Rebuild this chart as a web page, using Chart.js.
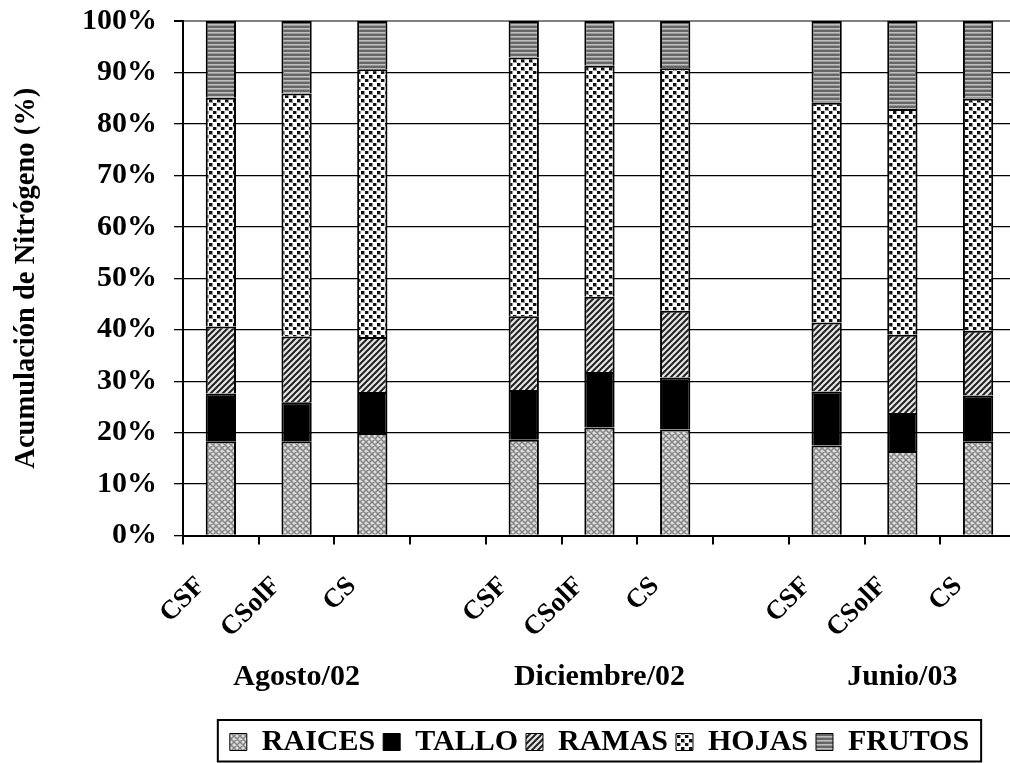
<!DOCTYPE html>
<html><head><meta charset="utf-8">
<script src="https://cdn.jsdelivr.net/npm/chart.js@4.4.1/dist/chart.umd.min.js"></script>
<style>
html,body{margin:0;padding:0;overflow:hidden;background:#fff;width:1010px;height:763px}
#wrap{position:relative;width:1010px;height:763px;overflow:hidden}
#c{position:absolute;left:0;top:-14px}
</style></head>
<body><div id="wrap"><canvas id="c" width="1027" height="781"></canvas></div>
<script>
const categories = ['CSF','CSolF','CS','', 'CSF','CSolF','CS','', 'CSF','CSolF','CS'];
const groupLabels = ['', 'Agosto/02', '', '', '', 'Diciembre/02', '', '', '', 'Junio/03', ''];
const seriesNames = ['RAICES','TALLO','RAMAS','HOJAS','FRUTOS'];
const raices = [18.3, 18.3, 19.9, null, 18.6, 21.0, 20.6, null, 17.5, 16.4, 18.3];
const tallo  = [9.3, 7.6, 8.0, null, 9.7, 10.8, 10.1, null, 10.5, 7.4, 8.9];
const ramas  = [13.0, 12.8, 10.7, null, 14.3, 14.6, 13.0, null, 13.4, 15.2, 12.6];
const hojas  = [44.5, 47.2, 52.0, null, 50.3, 44.9, 47.1, null, 42.7, 43.9, 45.1];
const frutos = [14.9, 14.1, 9.4, null, 7.1, 8.7, 9.2, null, 15.9, 17.1, 15.1];
const yTitle = 'Acumulación de Nitrógeno (%)';

const FONT = '"Liberation Serif", "Times New Roman", serif';

function makePattern(w, h, draw) {
  const c = document.createElement('canvas');
  c.width = w; c.height = h;
  const g = c.getContext('2d');
  draw(g, w, h);
  return g.createPattern(c, 'repeat');
}
const patRaices = makePattern(6, 6, (g) => {
  g.fillStyle = '#dedede'; g.fillRect(0, 0, 6, 6);
  g.strokeStyle = '#858585'; g.lineWidth = 1.5;
  g.beginPath();
  g.moveTo(0, 0); g.lineTo(6, 6);
  g.moveTo(6, 0); g.lineTo(0, 6);
  g.moveTo(-1, 5); g.lineTo(1, 7); g.moveTo(5, -1); g.lineTo(7, 1);
  g.moveTo(-1, 1); g.lineTo(1, -1); g.moveTo(5, 7); g.lineTo(7, 5);
  g.stroke();
});
const patRamas = makePattern(6, 6, (g) => {
  g.fillStyle = '#e6e6e6'; g.fillRect(0, 0, 6, 6);
  g.strokeStyle = '#222'; g.lineWidth = 2;
  g.beginPath();
  g.moveTo(0, 6); g.lineTo(6, 0);
  g.moveTo(-1, 1); g.lineTo(1, -1);
  g.moveTo(5, 7); g.lineTo(7, 5);
  g.stroke();
});
const patHojas = makePattern(8, 8, (g) => {
  g.fillStyle = '#ffffff'; g.fillRect(0, 0, 8, 8);
  g.fillStyle = '#9a9a9a';
  g.fillRect(1, 1, 4, 4);
  g.fillRect(5, 5, 3, 4); g.fillRect(0, 5, 1, 4);
  g.fillStyle = '#111111';
  g.fillRect(1, 1, 3, 3);
  g.fillRect(5, 5, 3, 3);
});
const patFrutos = makePattern(4, 4, (g) => {
  const rows = ['#666666', '#666666', '#c0c0c0', '#999999'];
  rows.forEach((col, i) => { g.fillStyle = col; g.fillRect(0, i, 4, 1); });
});
const fills = [patRaices, '#000000', patRamas, patHojas, patFrutos];
const values = [raices, tallo, ramas, hojas, frutos];

const datasets = seriesNames.map((name, i) => ({
  label: name,
  data: values[i],
  backgroundColor: fills[i],
  borderColor: '#000',
  borderWidth: 2,
  barPercentage: 0.4,
  categoryPercentage: 1.0,
  xAxisID: 'x',
  yAxisID: 'y'
}));

const legendBorder = {
  id: 'legendBorder',
  afterDraw(chart) {
    const lg = chart.legend;
    if (!lg || !lg.legendHitBoxes || !lg.legendHitBoxes.length) return;
    const hb = lg.legendHitBoxes;
    const first = hb[0], last = hb[hb.length - 1];
    const left = first.left - 12;
    const right = last.left + last.width + 12;
    const top = lg.top + 1;
    const bottom = chart.height - 5.5;
    const ctx = chart.ctx;
    ctx.save();
    ctx.strokeStyle = '#000';
    ctx.lineWidth = 2;
    ctx.strokeRect(left, top, right - left, bottom - top);
    ctx.restore();
  }
};

new Chart(document.getElementById('c'), {
  type: 'bar',
  data: { labels: categories, datasets },
  plugins: [legendBorder],
  options: {
    responsive: false,
    animation: false,
    devicePixelRatio: 1,
    layout: { padding: { top: 21, right: 0, bottom: 0, left: 0 } },
    plugins: {
      tooltip: { enabled: false },
      legend: {
        position: 'bottom',
        fullSize: false,
        labels: {
          color: '#000',
          font: { family: FONT, size: 30, weight: 'bold' },
          boxWidth: 17,
          boxHeight: 17,
          padding: 8,
          generateLabels(chart) {
            const items = Chart.defaults.plugins.legend.labels.generateLabels(chart);
            items.forEach(it => { it.lineWidth = 1; it.strokeStyle = '#000'; });
            return items;
          }
        }
      }
    },
    scales: {
      x: {
        type: 'category',
        position: 'bottom',
        stacked: true,
        offset: true,
        weight: 0,
        grid: { display: true, drawOnChartArea: false, drawTicks: true, tickLength: 9, offset: true, color: '#000', lineWidth: 2 },
        border: { display: true, color: '#000', width: 2 },
        ticks: {
          autoSkip: false, maxRotation: 45, minRotation: 45,
          color: '#000', padding: 26, labelOffset: -20,
          font: { family: FONT, size: 27, weight: 'bold' }
        },
        afterFit(s) { s.height = 120; }
      },
      x2: {
        type: 'category',
        position: 'bottom',
        labels: groupLabels,
        offset: true,
        weight: 1,
        grid: { display: false, drawTicks: false, drawOnChartArea: false },
        border: { display: false },
        ticks: {
          autoSkip: false, maxRotation: 0, minRotation: 0,
          color: '#000', padding: 4,
          font: { family: FONT, size: 30, weight: 'bold' }
        },
        afterFit(s) { s.height = 63.5; }
      },
      y: {
        stacked: true,
        min: 0, max: 100,
        ticks: {
          stepSize: 10,
          color: '#000',
          padding: 17,
          font: { family: FONT, size: 30, weight: 'bold' },
          callback: (v) => v + '%'
        },
        grid: {
          color: (ctx) => (ctx.tick && ctx.tick.value === 100) ? '#808080' : '#000000',
          lineWidth: (ctx) => (ctx.tick && ctx.tick.value === 100) ? 2 : 1.3,
          tickColor: '#000',
          tickLength: 9,
          drawTicks: true
        },
        border: { display: true, color: '#000', width: 2 },
        title: {
          display: true,
          text: yTitle,
          color: '#000',
          padding: { top: 10, bottom: 0 },
          font: { family: FONT, size: 28.5, weight: 'bold' }
        },
        afterFit(s) { s.width = 183; }
      }
    }
  }
});
</script>
</body></html>
